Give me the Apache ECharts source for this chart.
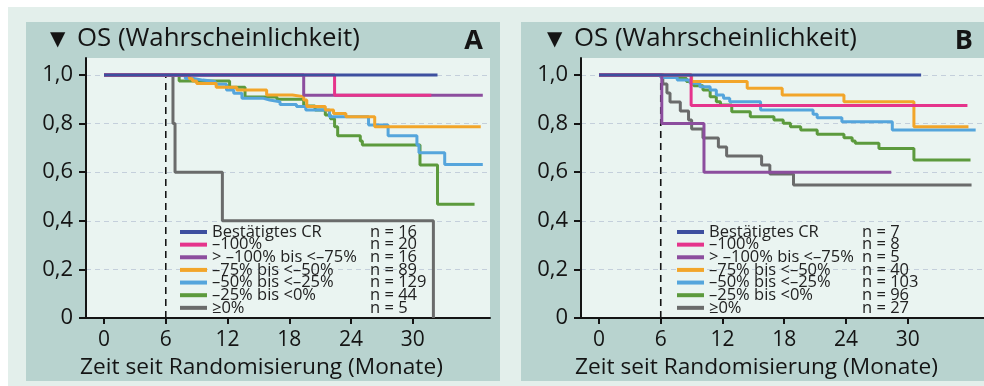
<!DOCTYPE html>
<html>
<head>
<meta charset="utf-8">
<script src="https://cdn.jsdelivr.net/npm/echarts@6/dist/echarts.min.js"></script>
<style>
  html, body { margin: 0; padding: 0; background: #ffffff; }
  #chart { width: 984px; height: 386px; }
</style>
</head>
<body>
<div id="chart"></div>
<script>
// Response groups (legend order) and their colours
const groupNames = ['Bestätigtes CR', '–100%', '> –100% bis <–75%', '–75% bis <–50%', '–50% bis <–25%', '–25% bis <0%', '≥0%'];
const groupColors = ['#3d4f9f', '#e5348c', '#8c4d9e', '#f2a52a', '#55a5dc', '#5c9a3d', '#6a6b6b'];

// Patients per group
const nA = [16, 20, 16, 89, 129, 44, 5];
const nB = [7, 8, 5, 40, 103, 96, 27];

// Axis ticks and the 6-month landmark
const xTicks = [0, 6, 12, 18, 24, 30];
const yTicks = [0, 0.2, 0.4, 0.6, 0.8, 1.0];
const landmarkMonth = 6;

// Kaplan-Meier curves, panel A: [month, survival probability]
const kmA_cr = [[0, 1], [32.4, 1]];
const kmA_m100 = [[0, 1], [22.4, 0.917], [31.8, 0.917]];
const kmA_m100to75 = [[0, 1], [19.4, 0.917], [36.8, 0.917]];
const kmA_m75to50 = [[0, 1], [8.3, 0.985], [8.6, 0.975], [9.0, 0.965], [10.9, 0.95], [12.9, 0.938], [15.8, 0.918], [18.3, 0.911], [19.4, 0.897], [19.7, 0.87], [21.5, 0.856], [22.3, 0.842], [23.5, 0.828], [26.3, 0.787], [36.6, 0.787]];
const kmA_m50to25 = [[0, 1], [7.9, 0.986], [8.7, 0.979], [9.6, 0.973], [10.8, 0.962], [11.9, 0.938], [12.6, 0.925], [13.4, 0.904], [15.5, 0.897], [16.1, 0.89], [17.1, 0.879], [18.7, 0.87], [19.6, 0.856], [21.9, 0.828], [25.7, 0.794], [27.6, 0.75], [30.4, 0.712], [30.6, 0.68], [33.1, 0.632], [36.8, 0.632]];
const kmA_m25to0 = [[0, 1], [7.3, 0.975], [12.2, 0.95], [13.7, 0.91], [16.8, 0.90], [19.4, 0.872], [20.5, 0.856], [21.5, 0.835], [22.0, 0.82], [22.4, 0.787], [22.7, 0.75], [24.9, 0.728], [25.1, 0.712], [30.7, 0.63], [32.4, 0.468], [36.0, 0.468]];
const kmA_ge0 = [[0, 1], [6.7, 0.8], [6.9, 0.6], [11.5, 0.4], [32.0, 0]];

// Kaplan-Meier curves, panel B
const kmB_cr = [[0, 1], [31.3, 1]];
const kmB_m100 = [[0, 1], [8.95, 0.875], [35.8, 0.875]];
const kmB_m100to75 = [[0, 1], [6.1, 0.8], [10.2, 0.6], [28.4, 0.6]];
const kmB_m75to50 = [[0, 1], [9.0, 0.973], [14.4, 0.945], [17.8, 0.918], [23.8, 0.89], [30.6, 0.787], [35.9, 0.787]];
const kmB_m50to25 = [[0, 1], [6.0, 0.99], [7.6, 0.979], [8.85, 0.966], [9.8, 0.952], [10.8, 0.938], [11.4, 0.918], [12.1, 0.904], [12.7, 0.89], [15.7, 0.856], [20.8, 0.838], [21.2, 0.824], [23.6, 0.808], [28.5, 0.774], [36.6, 0.774]];
const kmB_m25to0 = [[0, 1], [6.3, 0.99], [7.4, 0.986], [8.5, 0.973], [9.2, 0.956], [10.1, 0.938], [10.8, 0.911], [11.4, 0.89], [11.8, 0.877], [12.9, 0.849], [14.7, 0.828], [17.0, 0.815], [17.9, 0.801], [18.6, 0.787], [19.6, 0.774], [21.2, 0.756], [23.8, 0.742], [24.6, 0.728], [24.9, 0.719], [27.2, 0.698], [30.6, 0.65], [36.1, 0.65]];
const kmB_ge0 = [[0, 1], [6.2, 0.963], [6.6, 0.926], [6.9, 0.889], [7.9, 0.852], [8.7, 0.815], [9.0, 0.778], [10.1, 0.741], [11.6, 0.704], [12.4, 0.667], [15.8, 0.630], [16.6, 0.593], [18.9, 0.547], [36.2, 0.547]];

const curvesA = [kmA_cr, kmA_m100, kmA_m100to75, kmA_m75to50, kmA_m50to25, kmA_m25to0, kmA_ge0];
const curvesB = [kmB_cr, kmB_m100, kmB_m100to75, kmB_m75to50, kmB_m50to25, kmB_m25to0, kmB_ge0];

const FONT = '"Open Sans", Lato, sans-serif';
const INK = '#141414';
const FRAME = '#b8d3cf';
const OUTER = '#e3efeb';
const PLOT = '#eaf4f1';

// grey first, confirmed CR last so it sits on top
const drawOrder = [6, 5, 4, 3, 2, 1, 0];

function panelSeries(curves, idx) {
  const list = [{
    type: 'line', name: 'landmark', xAxisIndex: idx, yAxisIndex: idx,
    data: [[landmarkMonth, 0], [landmarkMonth, 1]],
    showSymbol: false, symbol: 'none', silent: true,
    lineStyle: { color: INK, width: 1.6, type: [7, 5] }, z: 1
  }];
  drawOrder.forEach((g, k) => list.push({
    type: 'line', name: groupNames[g], xAxisIndex: idx, yAxisIndex: idx,
    data: curves[g], step: 'end', showSymbol: false, symbol: 'none', silent: true,
    lineStyle: { color: groupColors[g], width: 3 }, itemStyle: { color: groupColors[g] },
    z: 2 + k
  }));
  return list;
}

function legendFor(nVals, left, nameWidth) {
  const txt = { fontFamily: FONT, fontSize: 16.5, lineHeight: 13.2, color: '#222' };
  return {
    data: groupNames, orient: 'vertical', left: left, top: 223.5, padding: 0, itemGap: -4.36,
    icon: 'rect', itemWidth: 27, itemHeight: 4, selectedMode: false,
    textStyle: Object.assign({}, txt, { rich: { a: Object.assign({ width: nameWidth }, txt), b: Object.assign({}, txt) } }),
    formatter: name => `{a|${name}}{b|n = ${nVals[groupNames.indexOf(name)]}}`
  };
}

function xAxisFor(idx, max) {
  return {
    type: 'value', gridIndex: idx, min: -1.75, max: max,
    axisLine: { onZero: false, lineStyle: { color: INK, width: 2 } },
    axisTick: { customValues: xTicks, length: 6, lineStyle: { color: INK, width: 2 } },
    axisLabel: { customValues: xTicks, margin: 12, fontFamily: FONT, fontSize: 21, color: INK },
    splitLine: { show: false }
  };
}

function yAxisFor(idx) {
  return {
    type: 'value', gridIndex: idx, min: 0, max: 1.07,
    axisLine: { show: true, onZero: false, lineStyle: { color: INK, width: 2 } },
    axisTick: { show: true, customValues: yTicks, length: 7, lineStyle: { color: INK, width: 2 } },
    axisLabel: {
      customValues: yTicks, margin: 13, fontFamily: FONT, fontSize: 22, color: INK,
      formatter: v => v === 0 ? '0' : v.toFixed(1).replace('.', ',')
    },
    splitLine: { show: true, lineStyle: { color: '#c4cfdb', width: 1, type: [5, 4] } }
  };
}

function label(text, x, y, size, extra) {
  return {
    type: 'text', x: x, y: y, silent: true, z: 50,
    style: Object.assign({ text: text, fill: INK, fontFamily: FONT, fontSize: size, verticalAlign: 'middle', align: 'left' }, extra || {})
  };
}

const chart = echarts.init(document.getElementById('chart'), null, { renderer: 'canvas' });
chart.setOption({
  animation: false,
  backgroundColor: '#ffffff',
  graphic: [
    { type: 'rect', silent: true, z: -30, shape: { x: 8, y: 7, width: 976, height: 379 }, style: { fill: OUTER } },
    { type: 'rect', silent: true, z: -20, shape: { x: 26, y: 22, width: 474, height: 359 }, style: { fill: FRAME } },
    { type: 'rect', silent: true, z: -20, shape: { x: 521, y: 22, width: 463, height: 359 }, style: { fill: FRAME } },
    { type: 'rect', silent: true, z: -10, shape: { x: 86, y: 58, width: 404, height: 260 }, style: { fill: PLOT } },
    { type: 'rect', silent: true, z: -10, shape: { x: 581, y: 58, width: 403, height: 260 }, style: { fill: PLOT } },
    label('▼', 50, 40, 20, { fontFamily: '"DejaVu Sans", sans-serif' }),
    label('OS (Wahrscheinlichkeit)', 77, 39, 25.8),
    label('▼', 547, 40, 20, { fontFamily: '"DejaVu Sans", sans-serif' }),
    label('OS (Wahrscheinlichkeit)', 574, 39, 25.8),
    label('A', 483, 41, 27, { align: 'right', fontWeight: 'bold' }),
    label('B', 973, 41, 27, { align: 'right', fontWeight: 'bold' }),
    label('Zeit seit Randomisierung (Monate)', 80, 368, 22.7),
    label('Zeit seit Randomisierung (Monate)', 575, 368, 22.7)
  ],
  grid: [
    { left: 86, top: 58, width: 404, height: 260, containLabel: false },
    { left: 581, top: 58, width: 403, height: 260, containLabel: false }
  ],
  xAxis: [xAxisFor(0, 37.5), xAxisFor(1, 37.41)],
  yAxis: [yAxisFor(0), yAxisFor(1)],
  legend: [legendFor(nA, 180, 158), legendFor(nB, 677, 153)],
  series: panelSeries(curvesA, 0).concat(panelSeries(curvesB, 1))
});
</script>
</body>
</html>
